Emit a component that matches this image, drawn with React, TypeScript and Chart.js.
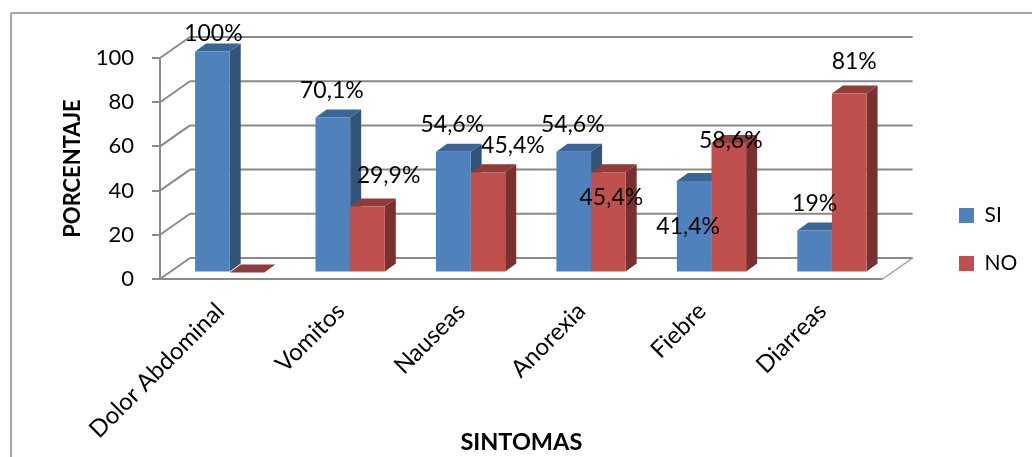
import React, { useEffect, useRef } from "react";
import { Chart, registerables } from "chart.js";

Chart.register(...registerables);

const categories = ["Dolor Abdominal", "Vomitos", "Nauseas", "Anorexia", "Fiebre", "Diarreas"];
const siValues = [100, 70.1, 54.6, 54.6, 41.4, 19];
const noValues = [0, 29.9, 45.4, 45.4, 58.6, 81];

const FONT = "Lato";
const GRID = "#8a8a8a";
const WALL = { dx: 30, dy: -21 };
const BAR_SHIFT = { dx: 9.5, dy: -6.5 };
const BAR_DEPTH = { dx: 11, dy: -8 };
const faces = [
  { top: "#3c6595", side: "#325479" },
  { top: "#8f3c3a", side: "#7a302e" },
];
const labelOffsets = [
  [[1, -18], [-1, -27], [-1, -27], [-1, -27], [-6, 46], [0, -27]],
  [[0, 0], [21, -31], [25, -27], [3, 25], [2, -2], [5, -32]],
];

const line = (ctx: CanvasRenderingContext2D, x1: number, y1: number, x2: number, y2: number) => {
  ctx.beginPath();
  ctx.moveTo(x1, y1);
  ctx.lineTo(x2, y2);
  ctx.stroke();
};

const poly = (ctx: CanvasRenderingContext2D, pts: number[][], fill: string) => {
  ctx.fillStyle = fill;
  ctx.beginPath();
  pts.forEach(([x, y], i) => (i ? ctx.lineTo(x, y) : ctx.moveTo(x, y)));
  ctx.closePath();
  ctx.fill();
};

const scene3d = {
  id: "scene3d",
  afterLayout(chart: any) {
    const lg = chart.legend;
    lg.left = 932;
    lg.right = 1032;
    const h = lg.bottom - lg.top;
    lg.top = 239.5 - h / 2;
    lg.bottom = lg.top + h;
  },
  beforeDatasetsDraw(chart: any) {
    const { ctx, chartArea, scales } = chart;
    ctx.save();
    // outer frame: top and left edges only
    ctx.strokeStyle = "#a6a6a6";
    ctx.lineWidth = 2;
    line(ctx, 11, 13, 1032, 13);
    line(ctx, 11, 13, 11, 457);
    // walls
    ctx.strokeStyle = GRID;
    ctx.lineWidth = 2;
    scales.y.ticks.forEach((t: any) => {
      const y = scales.y.getPixelForValue(t.value);
      line(ctx, chartArea.left, y, chartArea.left + WALL.dx, y + WALL.dy);
      line(ctx, chartArea.left + WALL.dx, y + WALL.dy, chartArea.right + WALL.dx, y + WALL.dy);
    });
    line(ctx, chartArea.left, chartArea.top, chartArea.left, chartArea.bottom + 1);
    line(ctx, chartArea.left - 8, chartArea.bottom, chartArea.right, chartArea.bottom);
    ctx.lineWidth = 1.5;
    ctx.strokeStyle = "#a0a0a0";
    line(ctx, chartArea.right, chartArea.bottom, chartArea.right + WALL.dx, chartArea.bottom + WALL.dy);
    ctx.restore();
    ctx.save();
    ctx.translate(BAR_SHIFT.dx, BAR_SHIFT.dy);
    // side and top faces, blue series first so the red fronts cover them
    chart.data.datasets.forEach((_: any, di: number) => {
      const f = faces[di];
      chart.getDatasetMeta(di).data.forEach((bar: any) => {
        const r = bar.x + bar.width / 2;
        const l = bar.x - bar.width / 2;
        const { dx, dy } = BAR_DEPTH;
        poly(ctx, [[r, bar.y], [r + dx, bar.y + dy], [r + dx, bar.base + dy], [r, bar.base]], f.side);
        poly(ctx, [[l, bar.y], [l + dx, bar.y + dy], [r + dx, bar.y + dy], [r, bar.y]], f.top);
      });
    });
  },
  afterDatasetsDraw(chart: any) {
    const { ctx } = chart;
    ctx.restore();
    ctx.save();
    ctx.fillStyle = "#000";
    ctx.font = `23px ${FONT}`;
    ctx.textAlign = "center";
    ctx.textBaseline = "middle";
    chart.data.datasets.forEach((ds: any, di: number) => {
      chart.getDatasetMeta(di).data.forEach((bar: any, i: number) => {
        if (ds.data[i] === 0) return;
        const [ox, oy] = labelOffsets[di][i];
        const text = `${ds.data[i]}%`.replace(".", ",");
        ctx.fillText(text, bar.x + BAR_SHIFT.dx + ox, bar.y + BAR_SHIFT.dy + oy);
      });
    });
    ctx.restore();
  },
};

export default function App() {
  const ref = useRef<HTMLCanvasElement>(null);
  useEffect(() => {
    const chart = new Chart(ref.current as HTMLCanvasElement, {
      type: "bar",
      plugins: [scene3d],
      data: {
        labels: categories,
        datasets: [
          { label: "SI", data: siValues, backgroundColor: "#4f81bd", clip: false },
          { label: "NO", data: noValues, backgroundColor: "#c0504d", clip: false },
        ],
      } as any,
      options: {
        animation: false,
        responsive: false,
        layout: { padding: { top: 58, bottom: 0, left: 60, right: 54 } },
        datasets: { bar: { categoryPercentage: 0.575, barPercentage: 1 } },
        plugins: {
          tooltip: { enabled: false },
          legend: {
            position: "right",
            labels: {
              boxWidth: 15,
              boxHeight: 15,
              padding: 27,
              color: "#000",
              font: { family: FONT, size: 21 },
            },
          },
        },
        scales: {
          x: {
            grid: { display: false },
            border: { display: false },
            afterFit: (s: any) => { s.height = 178; },
            ticks: {
              minRotation: 45,
              maxRotation: 45,
              autoSkip: false,
              padding: 10,
              color: "#000",
              font: { family: FONT, size: 24 },
            },
            title: {
              display: true,
              text: "SINTOMAS",
              color: "#000",
              padding: 0,
              font: { family: FONT, size: 23.5, weight: "bold" },
            },
          },
          y: {
            min: 0,
            max: 100,
            afterFit: (s: any) => { s.width = 100; },
            grid: { drawOnChartArea: false, drawTicks: true, tickLength: 8, color: GRID, lineWidth: 2 },
            border: { display: false },
            ticks: {
              stepSize: 20,
              padding: 18,
              color: "#000",
              font: { family: FONT, size: 22 },
            },
            title: {
              display: true,
              text: "PORCENTAJE",
              color: "#000",
              padding: 0,
              font: { family: FONT, size: 22, weight: "bold" },
            },
          },
        },
      } as any,
    });
    return () => chart.destroy();
  }, []);
  return (
    <div style={{ position: "absolute", left: 0, top: 0, width: 1032, height: 457, background: "#fff" }}>
      <canvas ref={ref} width={1032} height={457} style={{ display: "block" }} />
    </div>
  );
}
